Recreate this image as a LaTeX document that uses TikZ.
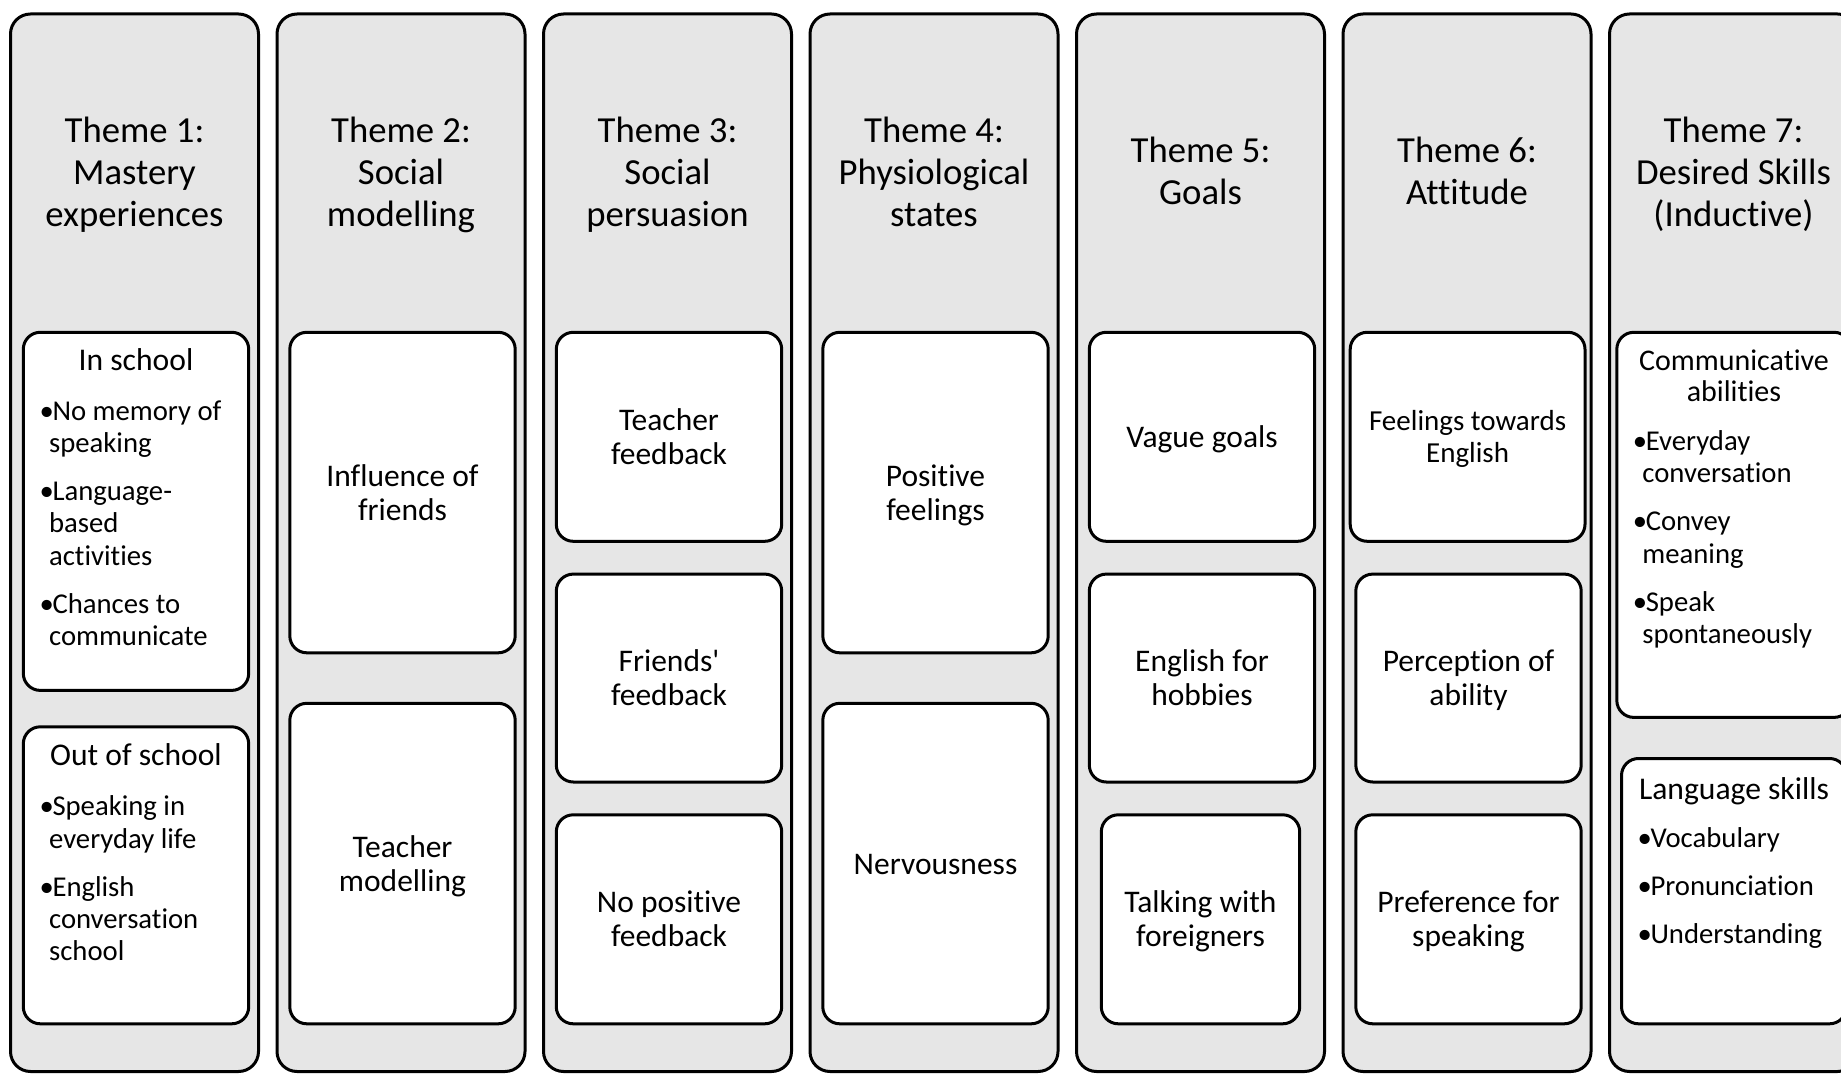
\documentclass[tikz,border=0pt]{standalone}
\usepackage{fontspec}
\setmainfont{Carlito}[Ligatures={NoCommon}]
\definecolor{colgray}{RGB}{230,230,230}
\newcommand\titlefont{\fontsize{18.35pt}{21.15pt}\selectfont}
\newcommand\boxfont{\fontsize{15.75pt}{17pt}\selectfont}
\newcommand\smallboxfont{\fontsize{14.5pt}{15.85pt}\selectfont}
\newcommand\headfont{\fontsize{15.8pt}{17pt}\selectfont}
\newcommand\sheadfont{\fontsize{15pt}{15.85pt}\selectfont}
\newcommand\listfont{\fontsize{14.35pt}{16.15pt}\selectfont}
% fixed ascent (first line) and descent (last line) so that every text block
% is centred on the same line metrics
\newcommand\ttopst{\rule{0pt}{17.7pt}}
\newcommand\tbotst{\rule[-5pt]{0pt}{5pt}}
\newcommand\btopst{\rule{0pt}{14.6pt}}
\newcommand\bbotst{\rule[-4pt]{0pt}{4pt}}
\newcommand\stopst{\rule{0pt}{13.4pt}}
\newcommand\sbotst{\rule[-3.7pt]{0pt}{3.7pt}}
% bullet items with a hanging indent
\newcommand\bul{\makebox[7.9pt][l]{\hspace{1.4pt}\textbullet}}
\newcommand\cont{\hspace*{6.2pt}}
\newcommand\igap{\\[7.9pt]}
\tikzset{
  colbox/.style={draw=black, line width=1.5pt, fill=colgray, rounded corners=10pt, inner sep=0pt},
  itembox/.style={draw=black, line width=1.5pt, fill=white, rounded corners=8.5pt,
    inner sep=0pt, align=center, font=\boxfont},
  themetitle/.style={align=center, inner sep=0pt, font=\titlefont},
  headtext/.style={align=center, inner sep=0pt, font=\headfont},
  blist/.style={align=left, inner sep=0pt, font=\listfont, anchor=north west},
}
% rounded box node given by its corners: style, name, x1, y1, x2, y2, text
\newcommand\rbox[7]{%
  \node[#1, minimum width={(#5-#3)*0.5pt}, minimum height={(#6-#4)*0.5pt}]
    (#2) at ({(#3+#5)/2},{(#4+#6)/2}) {#7};}

\begin{document}
\begin{tikzpicture}[x=0.5pt, y=-0.5pt]
\useasboundingbox (0,0) rectangle (1841,1074);
\clip (0,0) rectangle (1841,1074);

% theme columns
\foreach \i in {0,...,6} {
  \pgfmathsetmacro\xl{10.5+266.5*\i}
  \rbox{colbox}{col\i}{\xl}{14}{\xl+248}{1071.5}{}
}

% theme titles
\node[themetitle] (t1) at (134.5,172) {\ttopst Theme 1:\\Mastery\\experiences\tbotst};
\node[themetitle] (t2) at (401,172) {\ttopst Theme 2:\\Social\\modelling\tbotst};
\node[themetitle] (t3) at (667.5,172) {\ttopst Theme 3:\\Social\\persuasion\tbotst};
\node[themetitle] (t4) at (934,172) {\ttopst Theme 4:\\Physiological\\states\tbotst};
\node[themetitle] (t5) at (1200.5,171) {\ttopst Theme 5:\\Goals\tbotst};
\node[themetitle] (t6) at (1467,171) {\ttopst Theme 6:\\Attitude\tbotst};
\node[themetitle] (t7) at (1733.5,172) {\ttopst Theme 7:\\Desired Skills\\(Inductive)\tbotst};

% Theme 1
\rbox{itembox}{inschool}{23.3}{332.3}{248.7}{690.4}{}
\rbox{itembox}{outschool}{23.3}{726.8}{248.7}{1023.8}{}
\node[headtext, anchor=base] (inschoolh) at (136,370.4) {In school};
\node[blist] (inschooll) at (36.3,400) {%
  \bul No memory of\\\cont speaking\igap
  \bul Language-\\\cont based\\\cont activities\igap
  \bul Chances to\\\cont communicate};
\node[headtext, anchor=base] (outschoolh) at (136,765) {Out of school};
\node[blist] (outschooll) at (36.3,795.4) {%
  \bul Speaking in\\\cont everyday life\igap
  \bul English\\\cont conversation\\\cont school};

% Theme 2
\rbox{itembox}{friends}{289.8}{332.3}{515.2}{652.8}{\btopst Influence of\\friends\bbotst}
\rbox{itembox}{tmodel}{289.8}{703.3}{515.2}{1023.8}{\btopst Teacher\\modelling\bbotst}

% Theme 3
\rbox{itembox}{tfeed}{556.3}{332.3}{781.7}{541.3}{\btopst Teacher\\feedback\bbotst}
\rbox{itembox}{ffeed}{556.3}{574.1}{781.7}{782}{\btopst Friends\textquotesingle\\feedback\bbotst}
\rbox{itembox}{nofeed}{556.3}{814.8}{781.7}{1023.8}{\btopst No positive\\feedback\bbotst}

% Theme 4
\rbox{itembox}{posfeel}{822.8}{332.3}{1048.2}{652.8}{\btopst Positive\\feelings\bbotst}
\rbox{itembox}{nerv}{822.8}{703.3}{1048.2}{1023.8}{\btopst Nervousness\bbotst}

% Theme 5
\rbox{itembox}{vague}{1089.3}{332.3}{1314.7}{541.3}{\btopst Vague goals\bbotst}
\rbox{itembox}{hobbies}{1089.3}{574.1}{1314.7}{782}{\btopst English for\\hobbies\bbotst}
\rbox{itembox}{foreign}{1101.3}{814.8}{1299.7}{1023.8}{\btopst Talking with\\foreigners\bbotst}

% Theme 6
\rbox{itembox, font=\smallboxfont}{feelings}{1350.2}{332.3}{1585}{541.3}{\stopst Feelings towards\\English\sbotst}
\rbox{itembox}{ability}{1355.8}{574.1}{1581.2}{782}{\btopst Perception of\\ability\bbotst}
\rbox{itembox}{prefer}{1355.8}{814.8}{1581.2}{1023.8}{\btopst Preference for\\speaking\bbotst}

% Theme 7
\rbox{itembox}{commun}{1616.8}{332.3}{1851}{717.4}{}
\rbox{itembox}{langsk}{1621.5}{758.5}{1846.5}{1023.8}{}
\node[headtext, font=\sheadfont, anchor=north] (communh) at (1734,349) {Communicative\\abilities};
\node[blist] (communl) at (1629.6,430) {%
  \bul Everyday\\\cont conversation\igap
  \bul Convey\\\cont meaning\igap
  \bul Speak\\\cont spontaneously};
\node[headtext, anchor=base] (langskh) at (1734,799) {Language skills};
\node[blist] (langskl) at (1634.3,827) {%
  \bul Vocabulary\igap
  \bul Pronunciation\igap
  \bul Understanding};
\end{tikzpicture}
\end{document}
